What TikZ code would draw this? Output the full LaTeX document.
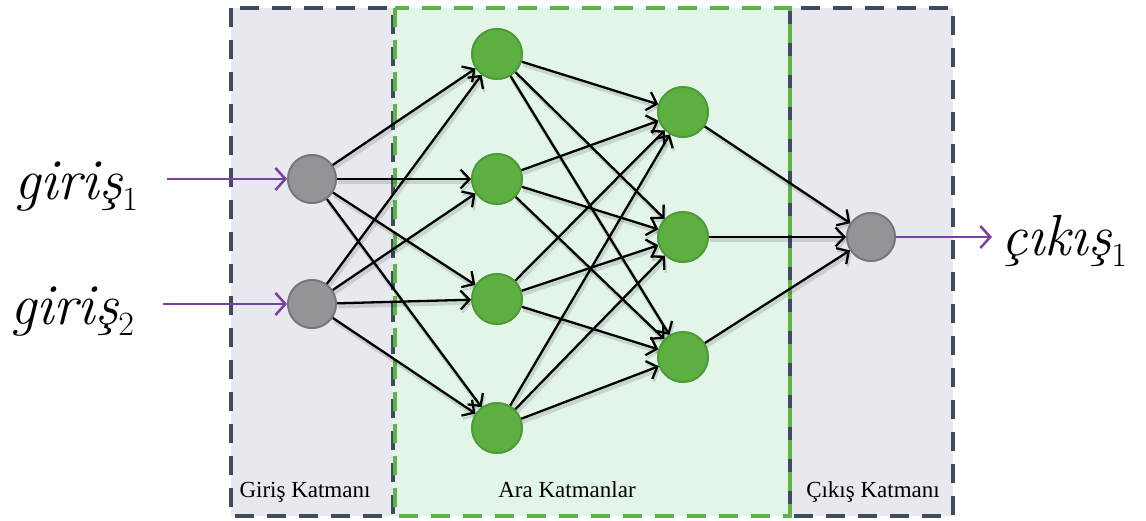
\documentclass[tikz,border=0pt]{standalone}
\usepackage{fontspec}
\newfontfamily\tnr{Liberation Serif}
\usetikzlibrary{arrows.meta}
\definecolor{boxgray}{HTML}{E8E9EE}
\definecolor{boxgreen}{HTML}{E3F4E9}
\definecolor{bordergray}{HTML}{3F4B5E}
\definecolor{bordergreen}{HTML}{5CB546}
\definecolor{nodegray}{HTML}{939398}
\definecolor{nodegrayb}{HTML}{75767B}
\definecolor{nodegreen}{HTML}{5DAF41}
\definecolor{nodegreenb}{HTML}{4A9B35}
\definecolor{arrowpurple}{HTML}{7B3FA0}
\newcommand{\subidx}[1]{\raisebox{-11pt}{\fontsize{34}{34}\selectfont\upshape #1}}
\begin{document}
\begin{tikzpicture}[x=1pt,y=-1pt,
  graynode/.style={circle, draw=nodegrayb, fill=nodegray, line width=1.8pt, minimum size=48pt, inner sep=0pt},
  greennode/.style={circle, draw=nodegreenb, fill=nodegreen, line width=1.8pt, minimum size=50pt, inner sep=0pt},
  conn/.style={-{Straight Barb[length=9pt,width=19pt,line width=2.3pt]}, line width=2.3pt, black,
    preaction={draw=black, opacity=0.12, line width=4pt, transform canvas={shift={(1.5pt,-3pt)}}}},
  inarrow/.style={-{Straight Barb[length=10pt,width=22pt,line width=2.5pt]}, line width=2.5pt, arrowpurple},
  layerbox/.style={dash pattern=on 19pt off 13pt, line width=3.5pt},
  lbl/.style={font=\fontsize{58}{60}\selectfont\itshape, inner sep=0pt},
  captxt/.style={font=\tnr\fontsize{23}{25}\selectfont, inner sep=0pt}]
\useasboundingbox (0,0) rectangle (1146,520);
% layer boxes
\fill[boxgray] (231,8) rectangle (393,516);
\fill[boxgray] (790,8) rectangle (953,516);
\fill[boxgreen] (394,8) rectangle (790,516);
\draw[layerbox, bordergray] (231,8) rectangle (393,516);
\draw[layerbox, bordergray] (790,8) rectangle (953,516);
\draw[layerbox, bordergreen] (395,8) rectangle (790,516);
% captions
\node[captxt, anchor=base] (c1) at (305,497) {Giriş Katmanı};
\node[captxt, anchor=base] (c2) at (567,497) {Ara Katmanlar};
\node[captxt, anchor=base] (c3) at (873,497) {Çıkış Katmanı};
% nodes
\node[graynode] (i1) at (312,179) {};
\node[graynode] (i2) at (312,304) {};
\node[greennode] (h1) at (497,54) {};
\node[greennode] (h2) at (497,179) {};
\node[greennode] (h3) at (497,299) {};
\node[greennode] (h4) at (497,428) {};
\node[greennode] (g1) at (683,112) {};
\node[greennode] (g2) at (683,237) {};
\node[greennode] (g3) at (683,357) {};
\node[graynode] (o1) at (871,237) {};
% connections
\foreach \a in {i1,i2}
  \foreach \b in {h1,h2,h3,h4}
    \draw[conn] (\a) -- (\b);
\foreach \a in {h1,h2,h3,h4}
  \foreach \b in {g1,g2,g3}
    \draw[conn] (\a) -- (\b);
\foreach \a in {g1,g2,g3}
  \draw[conn] (\a) -- (o1);
% redraw nodes on top
\node[graynode] at (i1) {};
\node[graynode] at (i2) {};
\foreach \n in {h1,h2,h3,h4,g1,g2,g3}
  \node[greennode] at (\n) {};
\node[graynode] at (o1) {};
% labels
\node[lbl, anchor=base west] (x1) at (14,199) {giriş\subidx{1}};
\node[lbl, anchor=base west] (x2) at (10,324) {giriş\subidx{2}};
\node[lbl, anchor=base west] (y1) at (1001,255) {çıkış\subidx{1}};
\coordinate (x1e) at (167,179);
\coordinate (x2e) at (163,304);
\coordinate (y1e) at (992,237);
\draw[inarrow] (x1e) -- (i1);
\draw[inarrow] (x2e) -- (i2);
\draw[inarrow] (o1) -- (y1e);
\end{tikzpicture}
\end{document}
